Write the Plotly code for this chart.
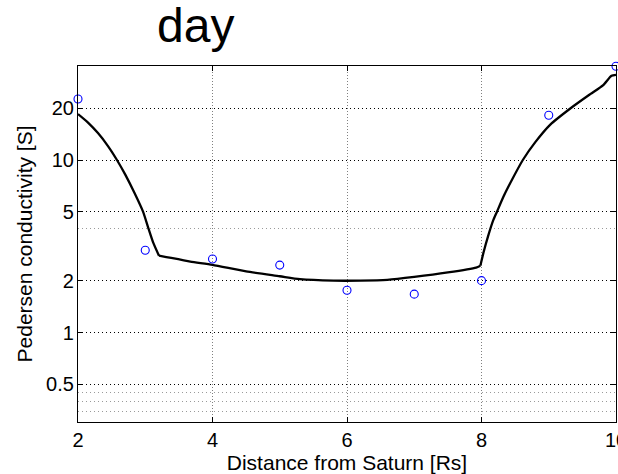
import numpy as np
import plotly.graph_objects as go

# Measured Pedersen conductivity at each distance
obs_r = [2, 3, 4, 5, 6, 7, 8, 9, 10]
obs_sigma = [22.6, 3.0, 2.67, 2.46, 1.76, 1.67, 2.0, 18.2, 35.0]

# Model profile, in three branches that meet at the kinks near 3.2 and 8 Rs
inner_r = [2.000, 2.149, 2.297, 2.446, 2.577, 2.703, 2.837, 2.967, 3.041,
           3.120, 3.204]
inner_sigma = [18.47, 16.49, 14.33, 12.05, 10.04, 8.23, 6.48, 5.02, 4.09,
               3.31, 2.79]

middle_r = [3.204, 3.313, 3.67, 4.00, 4.50, 5.00, 5.30, 5.80, 6.20, 6.60,
            7.00, 7.50, 7.92, 7.983]
middle_sigma = [2.79, 2.74, 2.58, 2.47, 2.26, 2.12, 2.04, 2.0, 2.0, 2.02,
                2.1, 2.23, 2.38, 2.44]

outer_r = [7.983, 8.031, 8.097, 8.171, 8.230, 8.324, 8.428, 8.617, 8.800,
           9.023, 9.335, 9.617, 9.810, 9.933, 10.00]
outer_sigma = [2.44, 2.92, 3.61, 4.44, 5.02, 6.11, 7.36, 10.04, 12.7,
               16.05, 20.1, 24.1, 27.2, 30.8, 31.2]

x_ticks = [2, 4, 6, 8, 10]
y_ticks = [0.5, 1, 2, 5, 10, 20]
y_ticktext = ["0.5", "1", "2", "5", "10", "20"]
y_minor = [0.35, 0.4, 0.45, 4]

x_range = [2, 10]
y_range = [np.log10(0.303), np.log10(35.1)]

FONT = "Liberation Sans, Arial, Helvetica, sans-serif"

fig = go.Figure()
for rs, sig in [(inner_r, inner_sigma), (middle_r, middle_sigma), (outer_r, outer_sigma)]:
    fig.add_trace(go.Scatter(
        x=rs, y=sig, mode="lines",
        line=dict(color="black", width=2.3, shape="spline", smoothing=0.6),
        showlegend=False, hoverinfo="skip",
    ))
fig.add_trace(go.Scatter(
    x=obs_r, y=obs_sigma, mode="markers",
    marker=dict(symbol="circle-open", size=8, color="#0000ff",
                line=dict(width=1.1, color="#0000ff")),
    cliponaxis=False, showlegend=False,
))
# faint minor grid lines on an overlaid axis
fig.add_trace(go.Scatter(x=[None], y=[None], yaxis="y2", showlegend=False))

fig.update_layout(
    width=618, height=474, autosize=False,
    margin=dict(l=78, r=2, t=66, b=52),
    paper_bgcolor="white", plot_bgcolor="white",
    font=dict(family=FONT, color="black", size=20),
    xaxis=dict(
        range=x_range, tickvals=x_ticks, ticktext=[str(v) for v in x_ticks],
        showline=True, linecolor="black", linewidth=1.2, mirror="ticks",
        ticks="inside", ticklen=5, tickcolor="black",
        ticklabeloverflow="allow", automargin=False,
        showgrid=True, gridcolor="#808080", griddash="1px,2px", gridwidth=1,
        zeroline=False, tickfont=dict(size=20),
        title=dict(text="Distance from Saturn [Rs]", font=dict(size=21), standoff=0),
    ),
    yaxis=dict(
        type="log", range=y_range, tickvals=y_ticks, ticktext=y_ticktext,
        showline=True, linecolor="black", linewidth=1.2, mirror="ticks",
        ticks="inside", ticklen=5, tickcolor="black", automargin=False,
        ticklabelstandoff=-1,
        showgrid=True, gridcolor="black", griddash="1px,3px", gridwidth=1,
        zeroline=False, tickfont=dict(size=20),
        title=dict(text="Pedersen conductivity [S]", font=dict(size=21), standoff=7),
    ),
    yaxis2=dict(
        type="log", range=y_range, overlaying="y", tickvals=y_minor,
        showticklabels=False, ticks="", showline=False,
        showgrid=True, gridcolor="#9a9a9a", griddash="1px,3px", gridwidth=1,
        zeroline=False,
    ),
    annotations=[dict(
        text="day", xref="paper", yref="paper", x=0.2175, y=1.0,
        yshift=12, xanchor="center", yanchor="bottom", showarrow=False,
        font=dict(size=48, family=FONT, color="black"),
    )],
)

fig.write_html("out.html")
